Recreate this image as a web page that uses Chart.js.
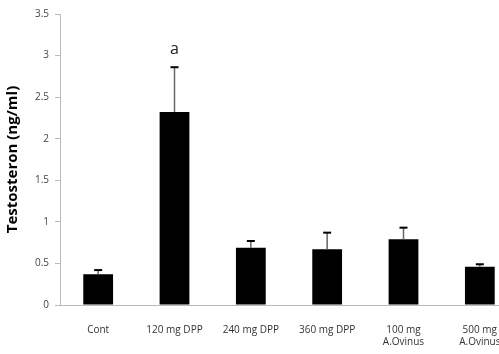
<!DOCTYPE html>
<html>
<head>
<meta charset="utf-8">
<script src="https://cdn.jsdelivr.net/npm/chart.js@4"></script>
<style>
  html, body { margin: 0; padding: 0; background: #fff; overflow: hidden; }
  #wrap { width: 518px; height: 354px; }
</style>
</head>
<body>
<div id="wrap"><canvas id="testo_chart"></canvas></div>
<script>
const groups = ["Cont", "120 mg DPP", "240 mg DPP", "360 mg DPP", ["100 mg", "A.Ovinus"], ["500 mg", "A.Ovinus"]];
const means = [0.37, 2.32, 0.69, 0.67, 0.79, 0.46];
const errors = [0.05, 0.54, 0.08, 0.20, 0.14, 0.03];
const marks = ["", "a", "", "", "", ""];
const yTicks = [0, 0.5, 1, 1.5, 2, 2.5, 3, 3.5];

const ctx = document.getElementById("testo_chart");

// error bars + significance letters, drawn through the chart scales
const errorBars = {
  id: "errorBars",
  afterDatasetsDraw(chart) {
    const c = chart.ctx;
    const x = chart.scales.x;
    const y = chart.scales.y;
    c.save();
    means.forEach((m, i) => {
      const px = x.getPixelForValue(i);
      const top = y.getPixelForValue(m + errors[i]);
      const base = y.getPixelForValue(m);
      c.strokeStyle = "#666";
      c.lineWidth = 1.5;
      c.beginPath();
      c.moveTo(px, base);
      c.lineTo(px, top);
      c.stroke();
      c.strokeStyle = "#000";
      c.lineWidth = 2;
      c.beginPath();
      c.moveTo(px - 4, top);
      c.lineTo(px + 4, top);
      c.stroke();
      if (marks[i]) {
        c.fillStyle = "#222";
        c.font = "16px 'Open Sans'";
        c.textAlign = "center";
        c.textBaseline = "bottom";
        c.fillText(marks[i], px, top - 10);
      }
    });
    c.restore();
  },
};

new Chart(ctx, {
  type: "bar",
  data: {
    labels: groups,
    datasets: [
      {
        label: "Testosteron",
        data: means,
        backgroundColor: "#000",
        borderWidth: 0,
        categoryPercentage: 1,
        barPercentage: 0.39,
      },
    ],
  },
  options: {
    responsive: true,
    maintainAspectRatio: false,
    animation: false,
    layout: { padding: { top: 14, left: 4, right: 0, bottom: 0 } },
    scales: {
      y: {
        min: 0,
        max: 3.5,
        afterBuildTicks: (axis) => {
          axis.ticks = yTicks.map((v) => ({ value: v }));
        },
        afterFit: (axis) => {
          axis.width = 56;
        },
        grid: {
          drawOnChartArea: false,
          drawTicks: true,
          tickLength: 5,
          color: "#bbb",
        },
        border: { color: "#bbb", width: 1 },
        ticks: {
          color: "#444",
          padding: 6,
          callback: (v) => String(v),
          font: { family: "'Open Sans'", size: 10 },
        },
        title: {
          display: true,
          text: "Testosteron (ng/ml)",
          color: "#000",
          padding: { top: 0, bottom: 0 },
          font: { family: "'Open Sans'", size: 15, weight: "bold" },
        },
      },
      x: {
        afterFit: (axis) => {
          axis.height = 49;
        },
        grid: { display: false },
        border: { color: "#bbb", width: 1 },
        ticks: {
          color: "#333",
          maxRotation: 0,
          autoSkip: false,
          padding: 11,
          font: { family: "'Open Sans'", size: 10 },
        },
      },
    },
    plugins: {
      legend: { display: false },
      tooltip: { enabled: false },
    },
  },
  plugins: [errorBars],
});
</script>
</body>
</html>
